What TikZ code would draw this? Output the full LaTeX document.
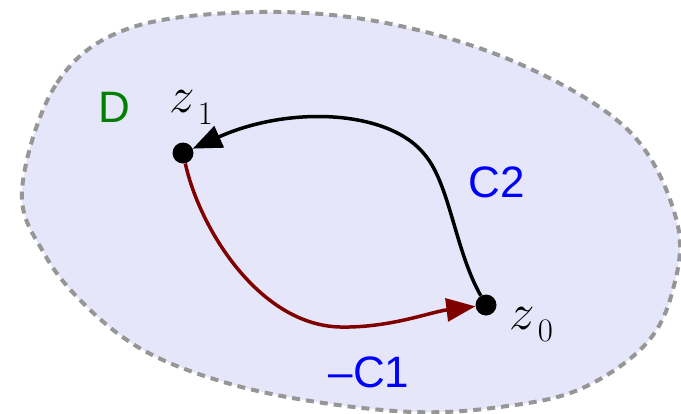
\documentclass[tikz,border=0pt]{standalone}
\usepackage{fontspec}
\usepackage{tikz}
\usetikzlibrary{arrows.meta}
\newfontfamily\labfont{Liberation Sans}
\definecolor{figfill}{RGB}{230,230,250}
\definecolor{figedge}{RGB}{150,150,150}
\definecolor{figred}{RGB}{128,0,0}
\definecolor{figgreen}{RGB}{0,128,0}
\definecolor{figblue}{RGB}{0,0,255}
\newcommand{\zsub}[1]{$z$\kern1.5pt\raisebox{-6pt}{\fontsize{16}{19}\selectfont #1}}
\tikzset{
  rgn/.style  ={fill=figfill, draw=figedge, line width=4pt, dash pattern=on 8pt off 6pt},
  pt/.style   ={circle, fill=black, inner sep=0pt, minimum size=21pt},
  crv/.style  ={line width=3.5pt, -{Triangle[length=29pt,width=23pt]}},
  lab/.style  ={font=\fontsize{44}{50}\selectfont\labfont, inner sep=0pt},
  zlab/.style ={font=\fontsize{24.88}{30}\selectfont, scale=2.05, transform shape, inner sep=0pt, anchor=base west},
}

\begin{document}
\begin{tikzpicture}[x=1pt,y=-1pt]
  \useasboundingbox (0,0) rectangle (681,413);
  \draw[rgn] plot[smooth cycle,tension=0.6] coordinates {(22,190) (57,83) (130,28) (261,12) (391,24) (522,65) (630,132) (677,222) (672,293) (643,347) (578,390) (500,407) (413,412) (304,400) (217,380) (143,350) (87,307) (45,255)};
  \node[pt] (z1) at (183,153) {};
  \node[pt] (z0) at (486,305) {};
  \coordinate (c2top) at (425,155);
  \coordinate (c1low) at (340,327);
  \draw[crv,draw=black] (z0) .. controls (455,250) and (450,185) .. (c2top)
    .. controls (390,110) and (290,105) .. (z1);
  \draw[crv,draw=figred] (z1) .. controls (200,230) and (260,325) .. (c1low)
    .. controls (390,328) and (430,312) .. (z0);
  \node[lab,text=figgreen] (dlab) at (114,107) {D};
  \node[lab,text=figblue] (c2lab) at (497,182) {C2};
  \node[lab,text=figblue] (c1lab) at (369,372) {–C1};
  \node[zlab] (z1lab) at (169,112) {\zsub{1}};
  \node[zlab] (z0lab) at (509,329) {\zsub{0}};
\end{tikzpicture}
\end{document}
